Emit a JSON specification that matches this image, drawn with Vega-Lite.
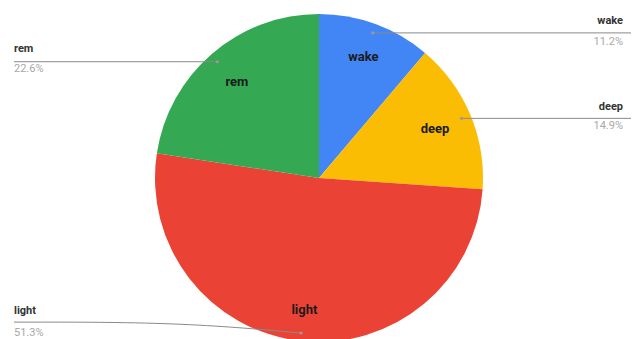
{
  "$schema": "https://vega.github.io/schema/vega-lite/v6.json",
  "width": 633,
  "height": 339,
  "autosize": {"type": "fit", "contains": "padding"},
  "padding": {"left": 7, "top": 15, "right": 0, "bottom": 0},
  "background": "white",
  "config": {"view": {"stroke": null}, "font": "Roboto"},
  "datasets": {
    "slices": [
      {"stage": "wake", "pct": 11.2, "order": 1},
      {"stage": "deep", "pct": 14.9, "order": 2},
      {"stage": "light", "pct": 51.3, "order": 3},
      {"stage": "rem", "pct": 22.6, "order": 4}
    ],
    "callouts": [
      {"stage": "wake", "label": "11.2%", "dx": 54, "dy": -146, "tx": 305, "ny": -158, "py": -137, "align": "right"},
      {"stage": "deep", "label": "14.9%", "dx": 143, "dy": -60, "tx": 305, "ny": -71, "py": -52, "align": "right"},
      {"stage": "rem", "label": "22.6%", "dx": -102, "dy": -117, "tx": -306, "ny": -130, "py": -110, "align": "left"},
      {"stage": "light", "label": "51.3%", "dx": -18, "dy": 156, "tx": -306, "ny": 134, "py": 156, "align": "left"}
    ],
    "paths": [
      {"stage": "wake", "i": 1, "px": 54, "py": -146},
      {"stage": "wake", "i": 2, "px": 313, "py": -146},
      {"stage": "deep", "i": 1, "px": 143, "py": -60},
      {"stage": "deep", "i": 2, "px": 313, "py": -60},
      {"stage": "rem", "i": 1, "px": -306, "py": -117},
      {"stage": "rem", "i": 2, "px": -102, "py": -117},
      {"stage": "light", "i": 1, "px": -306, "py": 145},
      {"stage": "light", "i": 2, "px": -140, "py": 145},
      {"stage": "light", "i": 3, "px": -18, "py": 156}
    ]
  },
  "layer": [
    {
      "data": {"name": "slices"},
      "mark": {"type": "arc", "outerRadius": 164},
      "encoding": {
        "theta": {"field": "pct", "type": "quantitative", "stack": true},
        "order": {"field": "order", "type": "quantitative"},
        "color": {
          "field": "stage",
          "type": "nominal",
          "scale": {"domain": ["wake", "deep", "light", "rem"], "range": ["#4285F4", "#FBBC04", "#EA4335", "#34A853"]},
          "legend": null
        }
      }
    },
    {
      "data": {"name": "slices"},
      "mark": {"type": "text", "radius": 129, "fontSize": 13, "fontWeight": "bold", "color": "#1b1b1b", "baseline": "middle"},
      "encoding": {
        "theta": {"field": "pct", "type": "quantitative", "stack": true},
        "order": {"field": "order", "type": "quantitative"},
        "text": {"condition": {"test": "datum.stage === 'wake'", "field": "stage"}, "value": ""}
      }
    },
    {
      "data": {"name": "slices"},
      "mark": {"type": "text", "radius": 126, "fontSize": 13, "fontWeight": "bold", "color": "#1b1b1b", "baseline": "middle"},
      "encoding": {
        "theta": {"field": "pct", "type": "quantitative", "stack": true},
        "order": {"field": "order", "type": "quantitative"},
        "text": {"condition": {"test": "datum.stage === 'deep' || datum.stage === 'rem'", "field": "stage"}, "value": ""}
      }
    },
    {
      "data": {"name": "slices"},
      "mark": {"type": "text", "radius": 133, "fontSize": 13, "fontWeight": "bold", "color": "#1b1b1b", "baseline": "middle"},
      "encoding": {
        "theta": {"field": "pct", "type": "quantitative", "stack": true},
        "order": {"field": "order", "type": "quantitative"},
        "text": {"condition": {"test": "datum.stage === 'light'", "field": "stage"}, "value": ""}
      }
    },
    {
      "data": {"name": "paths"},
      "mark": {"type": "line", "interpolate": "basis", "color": "#8a8a8a", "strokeWidth": 1},
      "encoding": {
        "x": {"field": "px", "type": "quantitative", "scale": {"domain": [-313, 313], "nice": false, "zero": false}, "axis": null},
        "y": {"field": "py", "type": "quantitative", "scale": {"domain": [-162, 162], "nice": false, "zero": false, "reverse": true}, "axis": null},
        "detail": {"field": "stage", "type": "nominal"},
        "order": {"field": "i", "type": "quantitative"}
      }
    },
    {
      "data": {"name": "callouts"},
      "mark": {"type": "point", "filled": true, "size": 10, "color": "#9a9a9a", "opacity": 1},
      "encoding": {
        "x": {"field": "dx", "type": "quantitative"},
        "y": {"field": "dy", "type": "quantitative"}
      }
    },
    {
      "data": {"name": "callouts"},
      "transform": [{"filter": "datum.align === 'right'"}],
      "mark": {"type": "text", "align": "right", "baseline": "middle", "fontSize": 11, "fontWeight": "bold", "color": "#333333"},
      "encoding": {
        "x": {"field": "tx", "type": "quantitative"},
        "y": {"field": "ny", "type": "quantitative"},
        "text": {"field": "stage", "type": "nominal"}
      }
    },
    {
      "data": {"name": "callouts"},
      "transform": [{"filter": "datum.align === 'right'"}],
      "mark": {"type": "text", "align": "right", "baseline": "middle", "fontSize": 11, "color": "#a8a8a8"},
      "encoding": {
        "x": {"field": "tx", "type": "quantitative"},
        "y": {"field": "py", "type": "quantitative"},
        "text": {"field": "label", "type": "nominal"}
      }
    },
    {
      "data": {"name": "callouts"},
      "transform": [{"filter": "datum.align === 'left'"}],
      "mark": {"type": "text", "align": "left", "baseline": "middle", "fontSize": 11, "fontWeight": "bold", "color": "#333333"},
      "encoding": {
        "x": {"field": "tx", "type": "quantitative"},
        "y": {"field": "ny", "type": "quantitative"},
        "text": {"field": "stage", "type": "nominal"}
      }
    },
    {
      "data": {"name": "callouts"},
      "transform": [{"filter": "datum.align === 'left'"}],
      "mark": {"type": "text", "align": "left", "baseline": "middle", "fontSize": 11, "color": "#a8a8a8"},
      "encoding": {
        "x": {"field": "tx", "type": "quantitative"},
        "y": {"field": "py", "type": "quantitative"},
        "text": {"field": "label", "type": "nominal"}
      }
    }
  ]
}
